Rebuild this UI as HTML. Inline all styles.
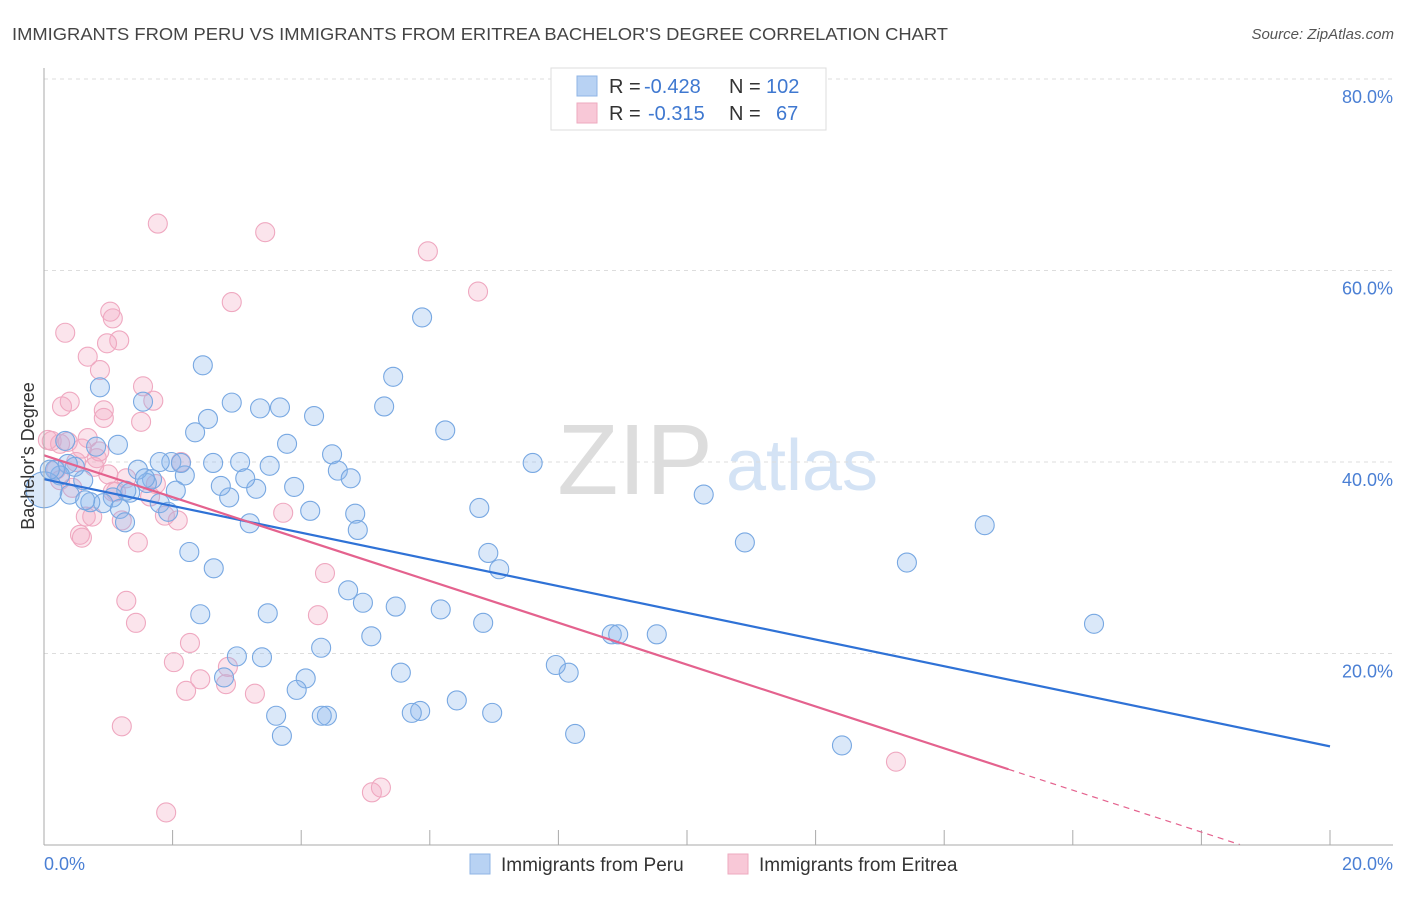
<!DOCTYPE html>
<html><head><meta charset="utf-8"><style>
body{margin:0;background:#fff;font-family:"Liberation Sans",sans-serif}
svg text{font-family:"Liberation Sans",sans-serif}
</style></head><body>
<svg id="c" width="1406" height="892" xmlns="http://www.w3.org/2000/svg">
<text x="12" y="40" font-size="17.5" fill="#444" textLength="936" lengthAdjust="spacingAndGlyphs">IMMIGRANTS FROM PERU VS IMMIGRANTS FROM ERITREA BACHELOR'S DEGREE CORRELATION CHART</text>
<text x="1394" y="39" font-size="15" fill="#555" font-style="italic" text-anchor="end">Source: ZipAtlas.com</text>
<text x="635" y="494" font-size="100" fill="#ddd" font-family="Liberation Serif" text-anchor="middle">ZIP</text>
<text x="802" y="490" font-size="72" fill="#d4e3f5" text-anchor="middle">atlas</text>
<g id="grid"></g><g id="pts"></g><g id="lines"></g>
<line x1="44" y1="68" x2="44" y2="845" stroke="#aaa"/>
<line x1="44" y1="845" x2="1393" y2="845" stroke="#aaa"/>
<text transform="translate(34,456) rotate(-90)" font-size="18" fill="#333" text-anchor="middle">Bachelor's Degree</text>
<text x="44" y="870" font-size="18" fill="#4a7fd4">0.0%</text>
<text x="1393" y="870" font-size="18" fill="#4a7fd4" text-anchor="end">20.0%</text>
<g>
<rect x="551" y="68" width="275" height="62" fill="#fff" stroke="#ddd"/>
<rect x="577" y="76" width="20" height="20" fill="#b8d2f3" stroke="#8fb4e6"/>
<rect x="577" y="103" width="20" height="20" fill="#f8c8d7" stroke="#eeaabf"/>
<text x="609" y="93" font-size="20" fill="#333">R = <tspan x="644" fill="#3f78d0">-0.428</tspan><tspan x="729">N = </tspan><tspan x="766" fill="#3f78d0">102</tspan></text>
<text x="609" y="120" font-size="20" fill="#333">R = <tspan x="648" fill="#3f78d0">-0.315</tspan><tspan x="729">N = </tspan><tspan x="776" fill="#3f78d0">67</tspan></text>
</g>
<g><rect x="470" y="854" width="20" height="20" fill="#b8d2f3" stroke="#8fb4e6"/><text x="501" y="871" font-size="19" fill="#333">Immigrants from Peru</text></g>
<g><rect x="728" y="854" width="20" height="20" fill="#f8c8d7" stroke="#eeaabf"/><text x="759" y="871" font-size="19" fill="#333">Immigrants from Eritrea</text></g>
</svg>
<script>
const yTicks=[20,40,60,80];
const yTickLabels=["20.0%","40.0%","60.0%","80.0%"];
const xTicks=[2,4,6,8,10,12,14,16,18,20];
const peruX=[0.87,2.47,1.54,2.55,2.92,3.36,3.67,4.2,2.35,1.15,0.33,0.81,3.78,4.48,4.57,4.77,5.43,5.88,5.29,6.24,7.6,6.77,6.91,7.08,10.26,10.9,13.42,14.63,16.33,12.41,8.26,8.16,7.96,8.83,8.93,9.53,6.97,6.42,6.83,6.17,5.85,5.72,5.55,5.47,5.09,4.96,4.73,4.4,4.32,4.31,4.07,3.93,3.7,3.61,3.39,3.48,3.0,2.8,2.43,2.64,2.26,3.2,3.3,2.88,2.75,2.63,3.05,3.13,3.51,3.89,4.14,4.84,4.88,2.19,1.98,2.13,1.8,1.68,2.05,1.8,1.93,1.6,1.46,1.34,1.28,1.07,0.92,0.72,0.61,0.48,0.37,0.25,0.17,0.4,1.18,1.26,0.0,0.09,1.57,0.64];
const peruY=[47.8,50.1,46.3,44.5,46.2,45.6,45.7,44.8,43.1,41.8,42.2,41.6,41.9,40.8,39.1,38.3,48.9,55.1,45.8,43.3,39.9,35.2,30.5,28.8,36.6,31.6,29.5,33.4,23.1,10.4,11.6,18.0,18.8,22.0,22.0,22.0,13.8,15.1,23.2,24.6,14.0,13.8,18.0,24.9,21.8,25.3,26.6,13.5,13.5,20.6,17.4,16.2,11.4,13.5,19.6,24.2,19.7,17.5,24.1,28.9,30.6,33.6,37.2,36.3,37.5,39.9,40.0,38.3,39.6,37.4,34.9,34.6,32.9,38.6,40.0,39.9,40.0,38.2,37.0,35.7,34.8,37.8,39.2,36.8,37.0,36.3,35.7,35.8,38.1,39.5,39.8,38.6,39.2,36.6,35.1,33.7,37.1,39.2,38.3,36.0];
const eritreaX=[1.77,3.44,5.97,6.75,2.92,0.33,1.03,1.07,1.17,0.98,0.68,0.87,1.54,1.7,0.28,0.4,0.93,0.93,1.51,0.12,0.25,0.37,0.68,0.59,0.82,0.78,0.5,2.13,1.74,1.28,1.12,1.21,1.88,2.08,0.65,0.75,0.56,0.59,1.46,3.72,4.37,1.28,1.43,4.26,2.27,2.02,2.86,2.21,2.43,2.83,3.28,1.21,1.9,5.1,5.24,13.25,0.06,0.19,0.25,1.07,1.65,0.86,0.44,1.0];
const eritreaY=[64.9,64.0,62.0,57.8,56.7,53.5,55.7,55.0,52.7,52.4,51.0,49.6,47.9,46.4,45.8,46.3,45.4,44.6,44.2,42.2,41.9,42.1,42.5,41.4,40.4,39.5,40.0,40.0,37.7,38.3,36.9,33.9,34.4,33.9,34.3,34.3,32.4,32.1,31.6,34.7,28.4,25.5,23.2,24.0,21.1,19.1,18.6,16.1,17.3,16.8,15.8,12.4,3.4,5.5,6.0,8.7,42.3,39.2,38.1,36.9,36.4,41.1,37.3,38.7];
const peruFit=[38.2,-1.395];
const eritreaFit=[40.7,-2.186];
const eritreaSolidEnd=15.0, eritreaDashEnd=18.6;
const X=v=>44+v*64.3, Y=v=>845-v*9.575;
const NS="http://www.w3.org/2000/svg";
function mk(t,a,p){const e=document.createElementNS(NS,t);for(const k in a)e.setAttribute(k,a[k]);p.appendChild(e);return e;}
const grid=document.getElementById('grid');
yTicks.forEach((t,i)=>{
 const l=mk('line',{x1:44,x2:1393,y1:Y(t),y2:Y(t),stroke:'#ddd','stroke-dasharray':'4,4'},grid);
 
 
 const tx=mk('text',{x:1393,y:Y(t)+24,'font-size':18,fill:'#4a7fd4','text-anchor':'end'},grid);
 tx.textContent=yTickLabels[i];
 
 
});
xTicks.forEach(t=>{
 const l=mk('line',{x1:X(t),x2:X(t),y1:830,y2:845,stroke:'#aaa'},grid);
 
 
});
const pts=document.getElementById('pts');
eritreaX.forEach((x,i)=>{
 const c=mk('circle',{cx:X(x),cy:Y(eritreaY[i]),r:9.5,fill:'rgba(244,170,195,0.32)',stroke:'#efa8c0','stroke-width':1.1},pts);
 
 
});
peruX.forEach((x,i)=>{
 const c=mk('circle',{cx:X(x),cy:Y(peruY[i]),r:x<0.05?18:9.5,fill:'rgba(140,185,235,0.32)',stroke:'#78a8e2','stroke-width':1.1},pts);
 
 
});
const lines=document.getElementById('lines');
const f=(fit,x)=>fit[0]+fit[1]*x;
let l1=mk('line',{x1:X(0),y1:Y(f(peruFit,0)),x2:X(20),y2:Y(f(peruFit,20)),stroke:'#2f72d6','stroke-width':2.2},lines);


let l2=mk('line',{x1:X(0),y1:Y(f(eritreaFit,0)),x2:X(eritreaSolidEnd),y2:Y(f(eritreaFit,eritreaSolidEnd)),stroke:'#e4628e','stroke-width':2.2},lines);


let l3=mk('line',{x1:X(eritreaSolidEnd),y1:Y(f(eritreaFit,eritreaSolidEnd)),x2:X(eritreaDashEnd),y2:Y(f(eritreaFit,eritreaDashEnd)),stroke:'#e4628e','stroke-width':1.2,'stroke-dasharray':'6,5'},lines);


</script>
</body></html>
